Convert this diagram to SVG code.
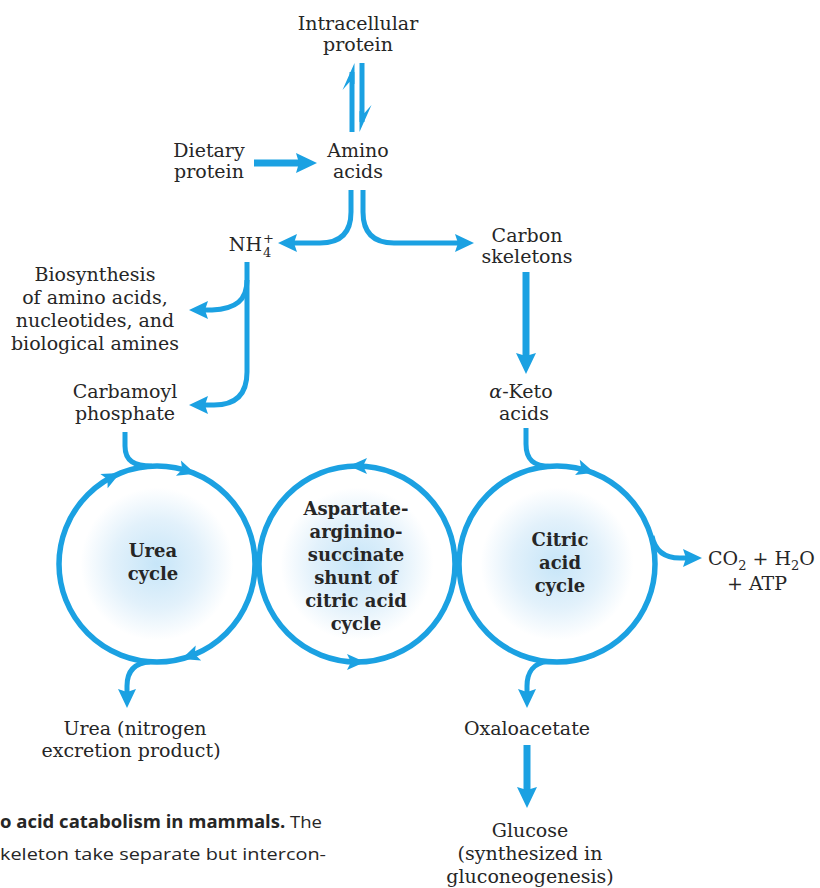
<svg xmlns="http://www.w3.org/2000/svg" xmlns:xlink="http://www.w3.org/1999/xlink" width="820" height="888" viewBox="0 0 820 888">
<style>
.t{font-family:"DejaVu Serif","Liberation Serif",serif;font-size:19px;fill:#262626;text-anchor:middle}
.b{font-family:"DejaVu Serif","Liberation Serif",serif;font-size:18px;font-weight:bold;fill:#262626;text-anchor:middle}
.cap{font-family:"Open Sans","Liberation Sans",sans-serif;font-size:17px;fill:#262626}
.ln{fill:none;stroke:#1ba1e2;stroke-width:5}
.th{fill:none;stroke:#1ba1e2;stroke-width:7}
.cy{fill:url(#glow);stroke:#1ba1e2;stroke-width:5.5}
.hd{fill:#1ba1e2}
</style>
<defs>
<radialGradient id="glow" cx="0.5" cy="0.5" r="0.5">
<stop offset="0" stop-color="#c6e5f8"/>
<stop offset="0.45" stop-color="#e2f1fb"/>
<stop offset="0.78" stop-color="#ffffff"/>
</radialGradient>
<marker id="ah" markerUnits="userSpaceOnUse" markerWidth="26" markerHeight="26" viewBox="0 -13 26 26" refX="3" refY="0" orient="auto">
<path d="M0,-9 L19,0 L0,9 L3,0 Z" fill="#1ba1e2"/>
</marker>
<marker id="ahL" markerUnits="userSpaceOnUse" markerWidth="28" markerHeight="28" viewBox="0 -14 28 28" refX="3" refY="0" orient="auto">
<path d="M0,-10 L21,0 L0,10 L3,0 Z" fill="#1ba1e2"/>
</marker>
<path id="cah" d="M9,0 L-9,-8 L-5,0 L-9,8 Z" fill="#1ba1e2"/>
</defs>

<g id="connectors">
<path class="ln" d="M352,132 V72"/>
<path class="hd" d="M354.5,63 L354.5,84 L349.5,82 L342.5,90 Z"/>
<path class="ln" d="M362,63 V122"/>
<path class="hd" d="M359.5,132 L359.5,111 L364.5,113 L371.5,105 Z"/>
<path class="th" d="M254,163 H299" marker-end="url(#ahL)"/>
<path class="ln" d="M351,190 V212 Q351,243 320,243 H294" marker-end="url(#ah)"/>
<path class="ln" d="M363,190 V212 Q363,243 394,243 H458" marker-end="url(#ah)"/>
<path class="ln" d="M247,262 V372 Q247,405 214,405 H205" marker-end="url(#ah)"/>
<path class="ln" d="M247,280 C247,300 236,309 212,310 H205" marker-end="url(#ah)"/>
<path class="th" d="M526,272 V356" marker-end="url(#ahL)"/>
<path class="ln" d="M125,432 V446 C125,461 134,466 152,466.3"/>
<path class="ln" d="M526,428 V444 C526,460 534,466 550,466.4"/>
<path class="ln" d="M150,661.8 C134,663 127,672 127,686 V692" marker-end="url(#ah)"/>
<path class="ln" d="M547,661.5 C534,663 527,672 527,686 V692" marker-end="url(#ah)"/>
<path class="ln" d="M652,536 C655,551 664,558 680,558 H686" marker-end="url(#ah)"/>
<path class="th" d="M527,745 V790" marker-end="url(#ahL)"/>
</g>

<g id="urea-cycle">
<circle class="cy" cx="157" cy="564" r="98"/>
<use xlink:href="#cah" href="#cah" transform="translate(112,477) rotate(-27)"/>
<use xlink:href="#cah" href="#cah" transform="translate(187,471) rotate(18)"/>
<use xlink:href="#cah" href="#cah" transform="translate(190,656) rotate(160)"/>
<text class="b" x="153" y="557">Urea</text>
<text class="b" x="153" y="580">cycle</text>
</g>

<g id="shunt">
<circle class="cy" cx="357" cy="564" r="98"/>
<use xlink:href="#cah" href="#cah" transform="translate(358,466) rotate(180)"/>
<use xlink:href="#cah" href="#cah" transform="translate(356,662) rotate(0)"/>
<text class="b" x="356" y="515">Aspartate-</text>
<text class="b" x="356" y="538">arginino-</text>
<text class="b" x="356" y="561">succinate</text>
<text class="b" x="356" y="584">shunt of</text>
<text class="b" x="356" y="607">citric acid</text>
<text class="b" x="356" y="630">cycle</text>
</g>

<g id="citric-cycle">
<circle class="cy" cx="557" cy="564" r="98"/>
<use xlink:href="#cah" href="#cah" transform="translate(586,470) rotate(17)"/>
<text class="b" x="560" y="546">Citric</text>
<text class="b" x="560" y="569">acid</text>
<text class="b" x="560" y="592">cycle</text>
</g>

<g id="intracellular-protein">
<text class="t" x="358" y="30">Intracellular</text>
<text class="t" x="358" y="51">protein</text>
</g>
<g id="dietary-protein">
<text class="t" x="209" y="157">Dietary</text>
<text class="t" x="209" y="178">protein</text>
</g>
<g id="amino-acids">
<text class="t" x="358" y="157">Amino</text>
<text class="t" x="358" y="178">acids</text>
</g>
<g id="nh4">
<text class="t" x="262" y="251" style="text-anchor:end">NH</text>
<text class="t" x="263" y="243" style="font-size:13px;text-anchor:start">+</text>
<text class="t" x="263" y="257" style="font-size:13px;text-anchor:start">4</text>
</g>
<g id="carbon-skeletons">
<text class="t" x="527" y="242">Carbon</text>
<text class="t" x="527" y="263">skeletons</text>
</g>
<g id="biosynthesis">
<text class="t" x="95" y="281">Biosynthesis</text>
<text class="t" x="95" y="304">of amino acids,</text>
<text class="t" x="95" y="327">nucleotides, and</text>
<text class="t" x="95" y="350">biological amines</text>
</g>
<g id="carbamoyl-phosphate">
<text class="t" x="125" y="398">Carbamoyl</text>
<text class="t" x="125" y="420">phosphate</text>
</g>
<g id="alpha-keto-acids">
<text class="t" x="521" y="398"><tspan font-style="italic">α</tspan>-Keto</text>
<text class="t" x="524" y="420">acids</text>
</g>
<g id="co2">
<text class="t" x="708" y="565" style="text-anchor:start">CO<tspan font-size="13" dy="5">2</tspan><tspan dy="-5"> + H</tspan><tspan font-size="13" dy="5">2</tspan><tspan dy="-5">O</tspan></text>
<text class="t" x="757" y="590">+ ATP</text>
</g>
<g id="urea">
<text class="t" x="135" y="735">Urea (nitrogen</text>
<text class="t" x="131" y="757">excretion product)</text>
</g>
<g id="oxaloacetate">
<text class="t" x="527" y="735">Oxaloacetate</text>
</g>
<g id="glucose">
<text class="t" x="530" y="837">Glucose</text>
<text class="t" x="530" y="860">(synthesized in</text>
<text class="t" x="530" y="883">gluconeogenesis)</text>
</g>
<g id="caption">
<text class="cap" x="0" y="828" textLength="322" lengthAdjust="spacingAndGlyphs"><tspan font-weight="bold">o acid catabolism in mammals.</tspan> The</text>
<text class="cap" x="0" y="860" textLength="326" lengthAdjust="spacingAndGlyphs">keleton take separate but intercon-</text>
</g>
</svg>
